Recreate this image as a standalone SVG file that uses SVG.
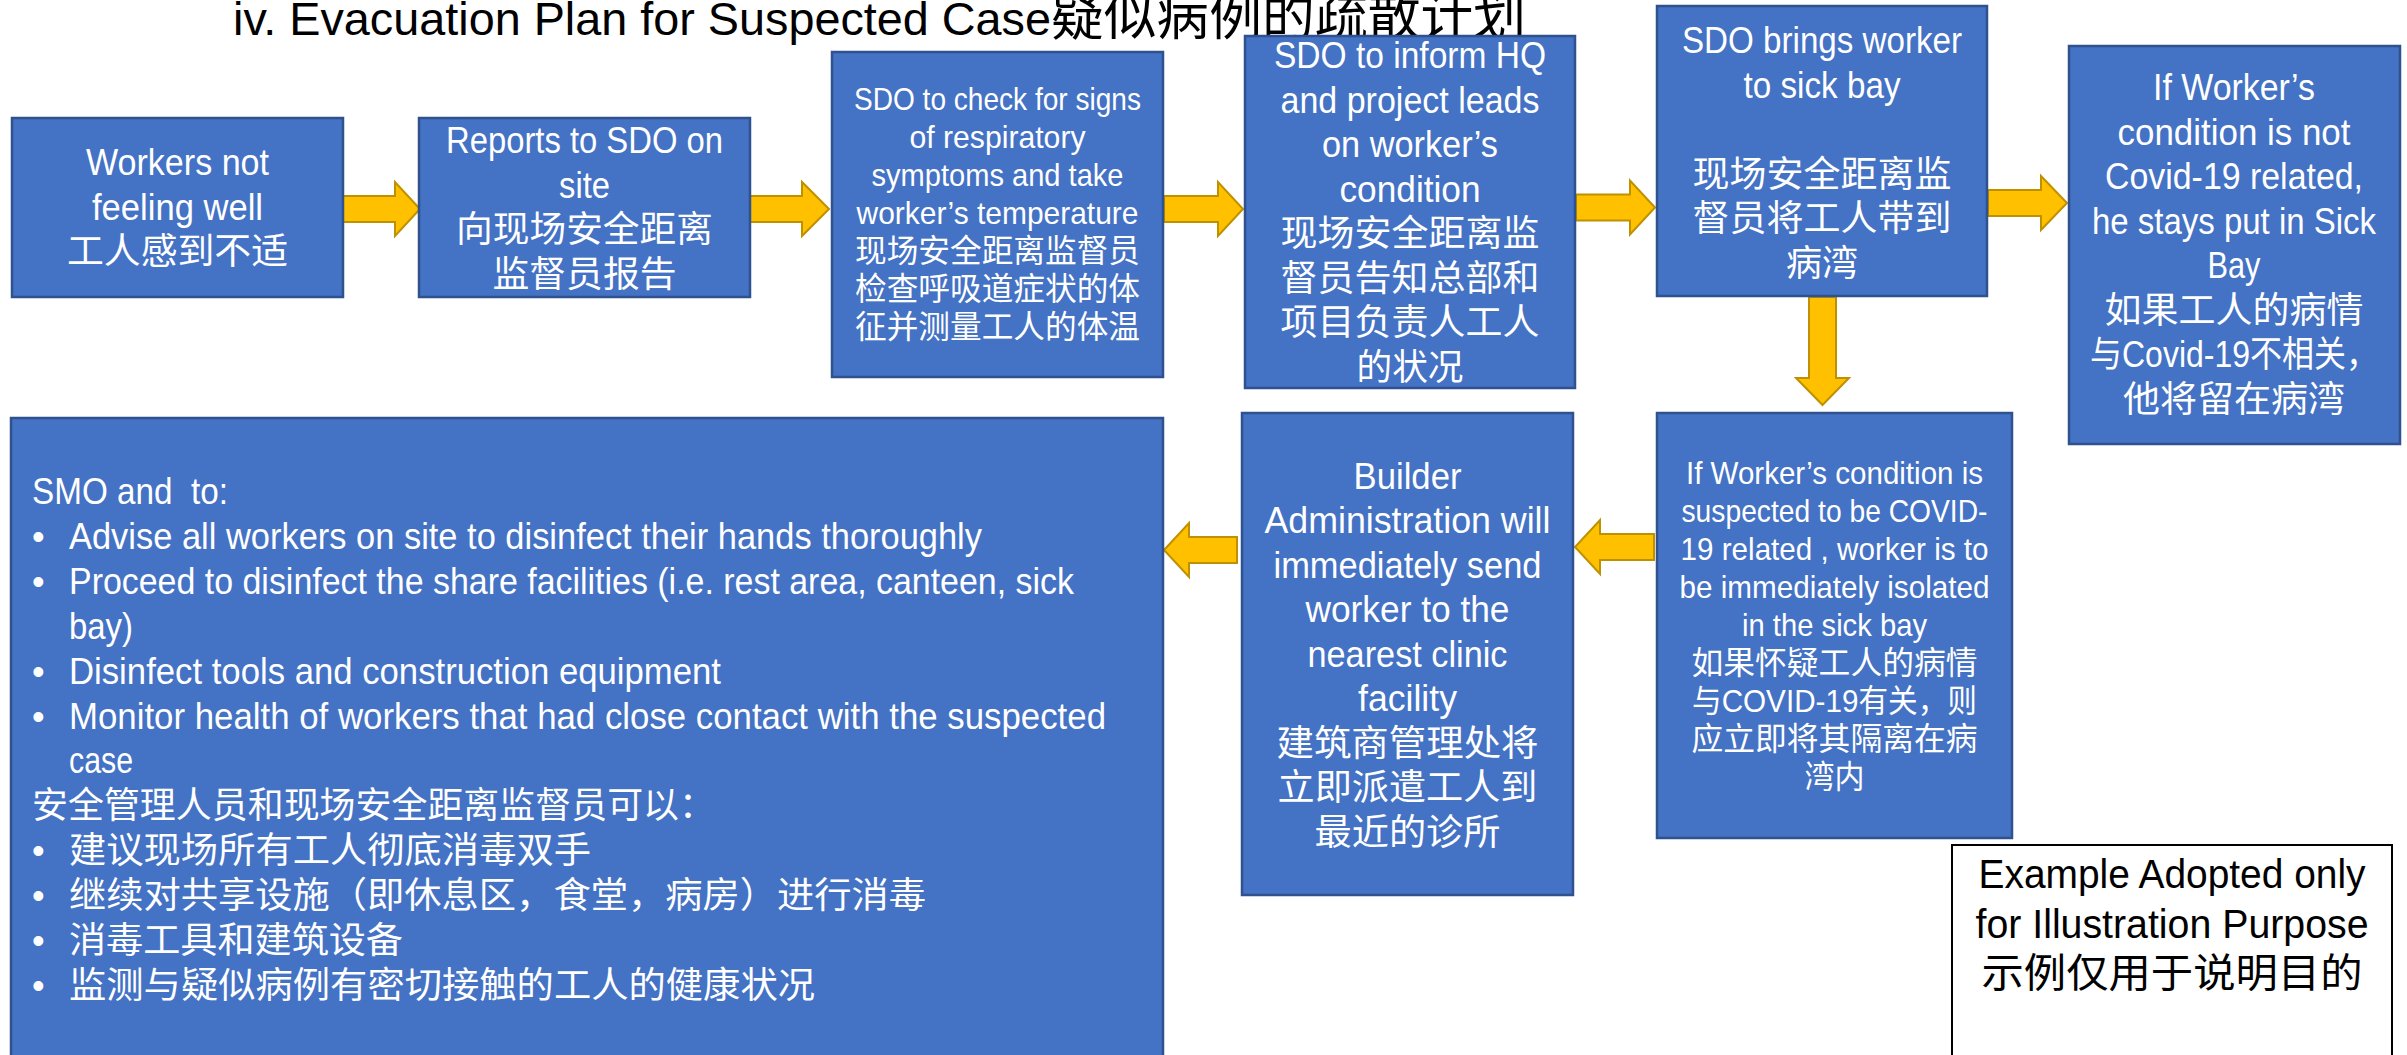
<svg xmlns="http://www.w3.org/2000/svg" width="2407" height="1055" viewBox="0 0 2407 1055">
<style>
.box{fill:#4472C4;stroke:#2F528F;stroke-width:2.5}
.note{fill:#FFFFFF;stroke:#000000;stroke-width:2}
.arrow{fill:#FFC000;stroke:#BF9000;stroke-width:2;stroke-linejoin:miter}
.t{font-family:"Liberation Sans","Noto Sans CJK SC",sans-serif;fill:#FFFFFF;text-anchor:middle}
.l{font-family:"Liberation Sans","Noto Sans CJK SC",sans-serif;fill:#FFFFFF;text-anchor:start}
.k{fill:#000000}
.s36{font-size:36px}
.s32{font-size:32px}
.s40{font-size:40px}
.title{font-family:"Liberation Sans","Noto Sans CJK SC",sans-serif;font-size:52px;fill:#000000}
</style>
<rect x="0" y="0" width="2407" height="1055" fill="#FFFFFF"/>
<g id="title">
<text class="title" y="35"><tspan x="233" textLength="818" lengthAdjust="spacingAndGlyphs" style="font-size:46px">iv. Evacuation Plan for Suspected Case</tspan><tspan x="1051" textLength="475" lengthAdjust="spacingAndGlyphs">疑似病例的疏散计划</tspan></text>
</g>
<g id="connectors">
<path class="arrow" d="M342,196 H395 V182 L420,209 L395,236 V222 H342 Z"/>
<path class="arrow" d="M750,196 H802 V182 L829,209 L802,236 V222 H750 Z"/>
<path class="arrow" d="M1164,196 H1218 V182 L1243,209 L1218,236 V222 H1164 Z"/>
<path class="arrow" d="M1576,194.5 H1630 V180.5 L1655,207.5 L1630,234.5 V220.5 H1576 Z"/>
<path class="arrow" d="M1988,190 H2041 V176 L2067,203 L2041,230 V216 H1988 Z"/>
<path class="arrow" d="M1809,297 H1836 V378 H1849 L1822.5,405 L1796,378 H1809 Z"/>
<path class="arrow" d="M1654,534 H1600 V520 L1575,547 L1600,574 V560 H1654 Z"/>
<path class="arrow" d="M1237,537 H1189 V523 L1164,550 L1189,577 V563 H1237 Z"/>
</g>
<g id="n1">
<rect class="box" x="12" y="118" width="331" height="179"/>
<text class="t s36"><tspan x="177.5" y="175" textLength="183" lengthAdjust="spacingAndGlyphs">Workers not</tspan><tspan x="177.5" y="219.5" textLength="171" lengthAdjust="spacingAndGlyphs">feeling well</tspan><tspan x="177.5" y="264" textLength="221" lengthAdjust="spacingAndGlyphs">工人感到不适</tspan></text>
</g>
<g id="n2">
<rect class="box" x="419" y="118" width="331" height="179"/>
<text class="t s36"><tspan x="584.5" y="153" textLength="277" lengthAdjust="spacingAndGlyphs">Reports to SDO on</tspan><tspan x="584.5" y="197.5" textLength="51" lengthAdjust="spacingAndGlyphs">site</tspan><tspan x="584.5" y="242" textLength="257" lengthAdjust="spacingAndGlyphs">向现场安全距离</tspan><tspan x="584.5" y="286.5" textLength="184" lengthAdjust="spacingAndGlyphs">监督员报告</tspan></text>
</g>
<g id="n3">
<rect class="box" x="832" y="52" width="331" height="325"/>
<text class="t s32"><tspan x="997.5" y="110" textLength="287" lengthAdjust="spacingAndGlyphs">SDO to check for signs</tspan><tspan x="997.5" y="148" textLength="176" lengthAdjust="spacingAndGlyphs">of respiratory</tspan><tspan x="997.5" y="186" textLength="252" lengthAdjust="spacingAndGlyphs">symptoms and take</tspan><tspan x="997.5" y="224" textLength="282" lengthAdjust="spacingAndGlyphs">worker’s temperature</tspan><tspan x="997.5" y="262" textLength="285" lengthAdjust="spacingAndGlyphs">现场安全距离监督员</tspan><tspan x="997.5" y="300" textLength="285" lengthAdjust="spacingAndGlyphs">检查呼吸道症状的体</tspan><tspan x="997.5" y="338" textLength="285" lengthAdjust="spacingAndGlyphs">征并测量工人的体温</tspan></text>
</g>
<g id="n4">
<rect class="box" x="1245" y="36" width="330" height="352"/>
<text class="t s36"><tspan x="1410" y="68" textLength="272" lengthAdjust="spacingAndGlyphs">SDO to inform HQ</tspan><tspan x="1410" y="112.5" textLength="259" lengthAdjust="spacingAndGlyphs">and project leads</tspan><tspan x="1410" y="157" textLength="176" lengthAdjust="spacingAndGlyphs">on worker’s</tspan><tspan x="1410" y="201.5" textLength="141" lengthAdjust="spacingAndGlyphs">condition</tspan><tspan x="1410" y="246" textLength="259" lengthAdjust="spacingAndGlyphs">现场安全距离监</tspan><tspan x="1410" y="290.5" textLength="259" lengthAdjust="spacingAndGlyphs">督员告知总部和</tspan><tspan x="1410" y="335" textLength="259" lengthAdjust="spacingAndGlyphs">项目负责人工人</tspan><tspan x="1410" y="379.5" textLength="107" lengthAdjust="spacingAndGlyphs">的状况</tspan></text>
</g>
<g id="n5">
<rect class="box" x="1657" y="6" width="330" height="290"/>
<text class="t s36"><tspan x="1822" y="53" textLength="280" lengthAdjust="spacingAndGlyphs">SDO brings worker</tspan><tspan x="1822" y="97.5" textLength="157" lengthAdjust="spacingAndGlyphs">to sick bay</tspan><tspan x="1822" y="186.5" textLength="259" lengthAdjust="spacingAndGlyphs">现场安全距离监</tspan><tspan x="1822" y="231" textLength="259" lengthAdjust="spacingAndGlyphs">督员将工人带到</tspan><tspan x="1822" y="275.5" textLength="72" lengthAdjust="spacingAndGlyphs">病湾</tspan></text>
</g>
<g id="n6">
<rect class="box" x="2069" y="46" width="331" height="398"/>
<text class="t s36"><tspan x="2234" y="100" textLength="162" lengthAdjust="spacingAndGlyphs">If Worker’s</tspan><tspan x="2234" y="144.5" textLength="233" lengthAdjust="spacingAndGlyphs">condition is not</tspan><tspan x="2234" y="189" textLength="258" lengthAdjust="spacingAndGlyphs">Covid-19 related,</tspan><tspan x="2234" y="233.5" textLength="284" lengthAdjust="spacingAndGlyphs">he stays put in Sick</tspan><tspan x="2234" y="278" textLength="53" lengthAdjust="spacingAndGlyphs">Bay</tspan><tspan x="2234" y="322.5" textLength="259" lengthAdjust="spacingAndGlyphs">如果工人的病情</tspan><tspan x="2234" y="367" textLength="288" lengthAdjust="spacingAndGlyphs">与Covid-19不相关，</tspan><tspan x="2234" y="411.5" textLength="222" lengthAdjust="spacingAndGlyphs">他将留在病湾</tspan></text>
</g>
<g id="n7">
<rect class="box" x="1657" y="413" width="355" height="425"/>
<text class="t s32"><tspan x="1834.5" y="484" textLength="297" lengthAdjust="spacingAndGlyphs">If Worker’s condition is</tspan><tspan x="1834.5" y="522" textLength="306" lengthAdjust="spacingAndGlyphs">suspected to be COVID-</tspan><tspan x="1834.5" y="560" textLength="308" lengthAdjust="spacingAndGlyphs">19 related , worker is to</tspan><tspan x="1834.5" y="598" textLength="310" lengthAdjust="spacingAndGlyphs">be immediately isolated</tspan><tspan x="1834.5" y="636" textLength="185" lengthAdjust="spacingAndGlyphs">in the sick bay</tspan><tspan x="1834.5" y="674" textLength="286" lengthAdjust="spacingAndGlyphs">如果怀疑工人的病情</tspan><tspan x="1834.5" y="712" textLength="285" lengthAdjust="spacingAndGlyphs">与COVID-19有关，则</tspan><tspan x="1834.5" y="750" textLength="286" lengthAdjust="spacingAndGlyphs">应立即将其隔离在病</tspan><tspan x="1834.5" y="788" textLength="60" lengthAdjust="spacingAndGlyphs">湾内</tspan></text>
</g>
<g id="n8">
<rect class="box" x="1242" y="413" width="331" height="482"/>
<text class="t s36"><tspan x="1407.5" y="488.5" textLength="108" lengthAdjust="spacingAndGlyphs">Builder</tspan><tspan x="1407.5" y="533" textLength="286" lengthAdjust="spacingAndGlyphs">Administration will</tspan><tspan x="1407.5" y="577.5" textLength="268" lengthAdjust="spacingAndGlyphs">immediately send</tspan><tspan x="1407.5" y="622" textLength="204" lengthAdjust="spacingAndGlyphs">worker to the</tspan><tspan x="1407.5" y="666.5" textLength="200" lengthAdjust="spacingAndGlyphs">nearest clinic</tspan><tspan x="1407.5" y="711" textLength="99" lengthAdjust="spacingAndGlyphs">facility</tspan><tspan x="1407.5" y="755.5" textLength="262" lengthAdjust="spacingAndGlyphs">建筑商管理处将</tspan><tspan x="1407.5" y="800" textLength="260" lengthAdjust="spacingAndGlyphs">立即派遣工人到</tspan><tspan x="1407.5" y="844.5" textLength="186" lengthAdjust="spacingAndGlyphs">最近的诊所</tspan></text>
</g>
<g id="n9">
<rect class="box" x="11" y="418" width="1152" height="660"/>
<text class="l s36" xml:space="preserve"><tspan x="32" y="504" textLength="196" lengthAdjust="spacingAndGlyphs">SMO and  to:</tspan><tspan x="32" y="548.9">•</tspan><tspan x="69" y="548.9" textLength="913" lengthAdjust="spacingAndGlyphs">Advise all workers on site to disinfect their hands thoroughly</tspan><tspan x="32" y="593.8">•</tspan><tspan x="69" y="593.8" textLength="1005" lengthAdjust="spacingAndGlyphs">Proceed to disinfect the share facilities (i.e. rest area, canteen, sick</tspan><tspan x="69" y="638.7" textLength="64" lengthAdjust="spacingAndGlyphs">bay)</tspan><tspan x="32" y="683.6">•</tspan><tspan x="69" y="683.6" textLength="652" lengthAdjust="spacingAndGlyphs">Disinfect tools and construction equipment</tspan><tspan x="32" y="728.5">•</tspan><tspan x="69" y="728.5" textLength="1037" lengthAdjust="spacingAndGlyphs">Monitor health of workers that had close contact with the suspected</tspan><tspan x="69" y="773.4" textLength="64" lengthAdjust="spacingAndGlyphs">case</tspan><tspan x="32" y="818.3" textLength="683" lengthAdjust="spacingAndGlyphs">安全管理人员和现场安全距离监督员可以：</tspan><tspan x="32" y="863.2">•</tspan><tspan x="69" y="863.2" textLength="522" lengthAdjust="spacingAndGlyphs">建议现场所有工人彻底消毒双手</tspan><tspan x="32" y="908.1">•</tspan><tspan x="69" y="908.1" textLength="857" lengthAdjust="spacingAndGlyphs">继续对共享设施（即休息区，食堂，病房）进行消毒</tspan><tspan x="32" y="953">•</tspan><tspan x="69" y="953" textLength="334" lengthAdjust="spacingAndGlyphs">消毒工具和建筑设备</tspan><tspan x="32" y="997.9">•</tspan><tspan x="69" y="997.9" textLength="746" lengthAdjust="spacingAndGlyphs">监测与疑似病例有密切接触的工人的健康状况</tspan></text>
</g>
<g id="n10">
<rect class="note" x="1952" y="845" width="440" height="230"/>
<text class="t k s40"><tspan x="2172" y="888" textLength="387" lengthAdjust="spacingAndGlyphs">Example Adopted only</tspan><tspan x="2172" y="938" textLength="393" lengthAdjust="spacingAndGlyphs">for Illustration Purpose</tspan><tspan x="2172" y="987" textLength="381" lengthAdjust="spacingAndGlyphs">示例仅用于说明目的</tspan></text>
</g>
</svg>
